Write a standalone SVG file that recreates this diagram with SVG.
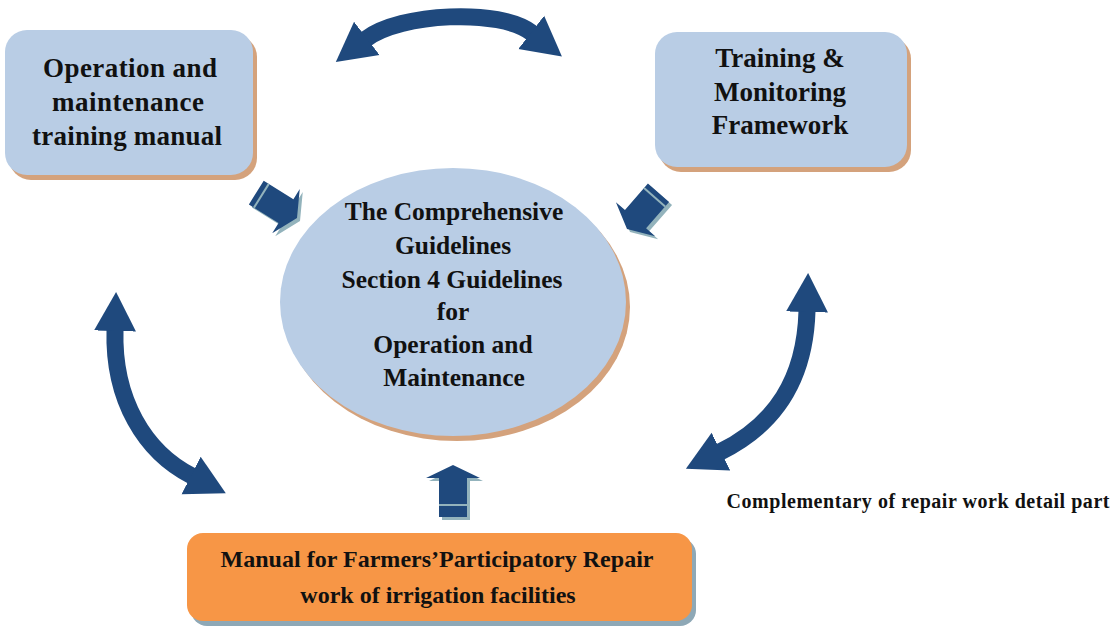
<svg xmlns="http://www.w3.org/2000/svg" width="1113" height="627" viewBox="0 0 1113 627">
  <defs>
    <style>
      .box { fill: #b9cde5; }
      .tan { fill: #d4a27c; }
      .orange { fill: #f79646; }
      .grey { fill: #8ea8b6; }
      .t { font-family: "Liberation Serif", "Times New Roman", serif; font-weight: bold; fill: #111; text-anchor: middle; }
      .curve { fill: none; stroke: #1f497d; stroke-width: 17; marker-start: url(#head); marker-end: url(#head); }
      .blk { fill: #1f497d; }
      .blk-sh { fill: #93b3bc; }
      .rib { stroke: #93b3bc; stroke-width: 2; }
    </style>
    <!-- arrowhead for the curved two-way connectors -->
    <marker id="head" viewBox="0 -22 40 44" refX="1" refY="0" markerWidth="40" markerHeight="44" markerUnits="userSpaceOnUse" orient="auto-start-reverse">
      <path d="M0,-21 L39,0 L0,21 Z" fill="#1f497d"/>
    </marker>
    <!-- small block arrow, tip at the origin, pointing up -->
    <path id="blockArrow" d="M0,0 L26,13 L14,13 L14,48 L-14,48 L-14,13 L-26,13 Z"/>
    <path id="blockArrowLong" d="M0,0 L27,13 L14,13 L14,52 L-14,52 L-14,13 L-27,13 Z"/>
  </defs>

  <!-- curved two-way connectors -->
  <g id="connectors">
    <path class="curve" d="M366,39 C400,13 500,8 532,33"/>
    <path class="curve" d="M115,330 C113,400 145,452 192,476"/>
    <path class="curve" d="M807,311 C805,380 775,425 720,452"/>
  </g>

  <!-- block arrows feeding the central guidelines -->
  <g id="feed-arrows">
    <g id="feed-top-left">
      <use href="#blockArrow" class="blk-sh" transform="translate(300,221) rotate(122)"/>
      <use href="#blockArrow" class="blk" transform="translate(297,218) rotate(122)"/>
      <line class="rib" x1="-14" y1="42" x2="14" y2="42" transform="translate(297,218) rotate(122)"/>
    </g>
    <g id="feed-top-right">
      <use href="#blockArrow" class="blk-sh" transform="translate(630,232) rotate(221)"/>
      <use href="#blockArrow" class="blk" transform="translate(627,229) rotate(221)"/>
      <line class="rib" x1="-14" y1="42" x2="14" y2="42" transform="translate(627,229) rotate(221)"/>
    </g>
    <g id="feed-bottom">
      <use href="#blockArrowLong" class="blk-sh" transform="translate(456,468)"/>
      <use href="#blockArrowLong" class="blk" transform="translate(453,465)"/>
      <line class="rib" x1="439" y1="505" x2="467" y2="505"/>
    </g>
  </g>

  <g id="node-om-manual">
    <rect class="tan" x="9" y="35" width="248" height="145" rx="22"/>
    <rect class="box" x="5" y="30" width="248" height="145" rx="22"/>
    <text class="t" font-size="27"><tspan x="130" y="77" textLength="174">Operation and</tspan><tspan x="128" y="111" textLength="152">maintenance</tspan><tspan x="127" y="145" textLength="190">training manual</tspan></text>
  </g>

  <g id="node-framework">
    <rect class="tan" x="659" y="37" width="252" height="135" rx="22"/>
    <rect class="box" x="655" y="32" width="252" height="135" rx="22"/>
    <text class="t" font-size="27"><tspan x="780" y="67">Training &amp;</tspan><tspan x="780" y="101">Monitoring</tspan><tspan x="780" y="134">Framework</tspan></text>
  </g>

  <g id="node-guidelines">
    <ellipse class="tan" cx="457" cy="307" rx="173" ry="134"/>
    <ellipse class="box" cx="453" cy="302" rx="173" ry="134"/>
    <text class="t" font-size="25.5"><tspan x="454" y="220">The Comprehensive</tspan><tspan x="453" y="254">Guidelines</tspan><tspan x="452" y="288">Section 4 Guidelines</tspan><tspan x="453" y="320">for</tspan><tspan x="453" y="353">Operation and</tspan><tspan x="454" y="386">Maintenance</tspan></text>
  </g>

  <g id="node-repair-manual">
    <rect class="grey" x="191" y="538" width="505" height="88" rx="16"/>
    <rect class="orange" x="187" y="533" width="505" height="88" rx="16"/>
    <text class="t" font-size="24"><tspan x="437" y="567" textLength="433">Manual for Farmers’Participatory Repair</tspan><tspan x="438" y="603">work of irrigation facilities</tspan></text>
  </g>

  <text id="note" class="t" font-size="20" x="918" y="508" textLength="383">Complementary of repair work detail part</text>
</svg>
